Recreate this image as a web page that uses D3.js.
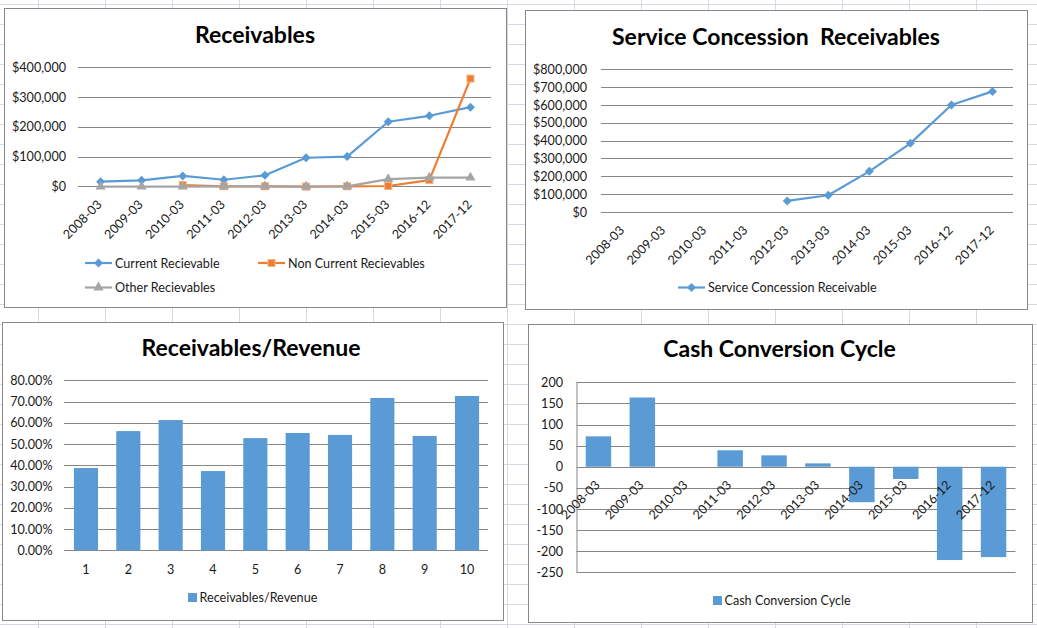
<!DOCTYPE html>
<html>
<head>
<meta charset="utf-8">
<script src="https://cdn.jsdelivr.net/npm/d3@7/dist/d3.min.js"></script>
<style>
  html, body { margin: 0; padding: 0; background: #fff; }
  svg { display: block; font-family: Lato, "Open Sans", sans-serif; }
  .tick-label { font-size: 12.6px; fill: #1a1a1a; }
  .title { font-size: 23px; font-weight: bold; fill: #000; }
</style>
</head>
<body>
<svg id="chart" width="1037" height="628"></svg>
<script>
// ---- data ----
var periods = ["2008-03", "2009-03", "2010-03", "2011-03", "2012-03",
               "2013-03", "2014-03", "2015-03", "2016-12", "2017-12"];
var currentRecv    = [15500, 20000, 35000, 22000, 37000, 96000, 100000, 217000, 237000, 266000];
var nonCurrentRecv = [null, null, 4000, 0, 0, -1000, 0, 1000, 21000, 362000];
var otherRecv      = [-1000, -1000, -1000, 0, 0, -1000, 0, 24000, 29000, 29000];
var serviceRecv    = [null, null, null, null, 62000, 94000, 228000, 385000, 600000, 676000];
var ratioIndex     = [1, 2, 3, 4, 5, 6, 7, 8, 9, 10];
var recvRevenue    = [0.387, 0.561, 0.613, 0.373, 0.528, 0.552, 0.543, 0.717, 0.538, 0.726];
var cashCycle      = [72, 164, 0, 39, 27, 8, -84, -29, -221, -214];

var recvTicks    = [0, 100000, 200000, 300000, 400000];
var serviceTicks = [0, 100000, 200000, 300000, 400000, 500000, 600000, 700000, 800000];
var ratioTicks   = [0, 0.1, 0.2, 0.3, 0.4, 0.5, 0.6, 0.7, 0.8];
var cycleTicks   = [-250, -200, -150, -100, -50, 0, 50, 100, 150, 200];

var BLUE = "#5b9bd5", ORANGE = "#ed7d31", GRAY = "#a5a5a5";
var GRID = "#878787";

var svg = d3.select("#chart");
var money = function(v) { return "$" + d3.format(",")(v); };
var pct = d3.format(".2%");

// ---- spreadsheet background ----
var sheet = svg.append("g").attr("class", "sheet");
sheet.selectAll("line.col").data(d3.range(38, 1037, 67)).enter()
  .append("line").attr("class", "col")
  .attr("x1", function(d){ return d + 0.5; }).attr("x2", function(d){ return d + 0.5; })
  .attr("y1", 0).attr("y2", 628)
  .attr("stroke", "#d4d9e3");
sheet.selectAll("line.row").data(d3.range(4, 628, 20)).enter()
  .append("line").attr("class", "row")
  .attr("y1", function(d){ return d + 0.5; }).attr("y2", function(d){ return d + 0.5; })
  .attr("x1", 0).attr("x2", 1037)
  .attr("stroke", "#d4d9e3");

function panel(box, title, tx, ty) {
  var g = svg.append("g");
  g.append("rect")
    .attr("x", box[0] + 0.5).attr("y", box[1] + 0.5)
    .attr("width", box[2] - box[0]).attr("height", box[3] - box[1])
    .attr("fill", "#fff").attr("stroke", "#888").attr("stroke-width", 1);
  g.append("text").attr("class", "title")
    .attr("x", tx).attr("y", ty).attr("text-anchor", "middle")
    .style("white-space", "pre")
    .text(title);
  return g;
}

function gridAndYAxis(g, y, ticks, x0, x1, labelX, fmt) {
  g.selectAll("line.grid").data(ticks).enter()
    .append("line").attr("class", "grid")
    .attr("x1", x0).attr("x2", x1)
    .attr("y1", function(d){ return Math.round(y(d)) + 0.5; })
    .attr("y2", function(d){ return Math.round(y(d)) + 0.5; })
    .attr("stroke", GRID);
  g.selectAll("text.ylab").data(ticks).enter()
    .append("text").attr("class", "tick-label ylab")
    .attr("x", labelX).attr("y", function(d){ return y(d); })
    .attr("dy", "0.36em").attr("text-anchor", "end")
    .text(fmt);
}

function rotatedXLabels(g, x, cats, y0) {
  g.selectAll("text.xlab").data(cats).enter()
    .append("text").attr("class", "tick-label xlab")
    .attr("text-anchor", "end").attr("dy", "0.35em")
    .attr("transform", function(d){
      return "translate(" + (x(d) + x.bandwidth() / 2 - 1) + "," + (y0 + 16) + ") rotate(-45)";
    })
    .text(function(d){ return d; });
}

function marker(sel, type, color) {
  if (type === "diamond") {
    sel.append("path").attr("d", "M0,-4.5L4.5,0L0,4.5L-4.5,0Z").attr("fill", color);
  } else if (type === "square") {
    sel.append("rect").attr("x", -3.5).attr("y", -3.5).attr("width", 7).attr("height", 7)
      .attr("fill", color).attr("stroke", "#f4b183").attr("stroke-width", 1);
  } else {
    sel.append("path").attr("d", d3.symbol().type(d3.symbolTriangle).size(45)()).attr("fill", color);
  }
}

function drawSeries(g, x, y, cats, values, color, type) {
  var pts = cats.map(function(c, i){ return {c: c, v: values[i]}; })
    .filter(function(p){ return p.v !== null; });
  var line = d3.line()
    .x(function(p){ return x(p.c) + x.bandwidth() / 2; })
    .y(function(p){ return y(p.v); });
  g.append("path").datum(pts).attr("d", line)
    .attr("fill", "none").attr("stroke", color).attr("stroke-width", 2.2)
    .attr("stroke-linejoin", "round");
  g.selectAll(null).data(pts).enter().append("g")
    .attr("transform", function(p){ return "translate(" + (x(p.c) + x.bandwidth() / 2) + "," + y(p.v) + ")"; })
    .each(function(){ marker(d3.select(this), type, color); });
}

function lineLegend(g, lx, ly, label, color, type) {
  var item = g.append("g").attr("transform", "translate(" + lx + "," + ly + ")");
  item.append("line").attr("x1", 0).attr("x2", 27).attr("y1", 0).attr("y2", 0)
    .attr("stroke", color).attr("stroke-width", 2.2);
  marker(item.append("g").attr("transform", "translate(13.5,0)"), type, color);
  item.append("text").attr("class", "tick-label").attr("x", 30).attr("dy", "0.36em").text(label);
}

function boxLegend(g, lx, ly, label, color) {
  var item = g.append("g").attr("transform", "translate(" + lx + "," + ly + ")");
  item.append("rect").attr("x", 0).attr("y", -4.5).attr("width", 9).attr("height", 9).attr("fill", color);
  item.append("text").attr("class", "tick-label").attr("x", 11.5).attr("dy", "0.36em").text(label);
}

// ---- 1. Receivables ----
(function(){
  var g = panel([4, 8, 506, 307], "Receivables", 255, 43);
  var x = d3.scaleBand().domain(periods).range([80, 491]);
  var y = d3.scaleLinear().domain([0, 400000]).range([186.3, 67.3]);
  gridAndYAxis(g, y, recvTicks, 78, 491, 66, money);
  rotatedXLabels(g, x, periods, y(0));
  drawSeries(g, x, y, periods, currentRecv, BLUE, "diamond");
  drawSeries(g, x, y, periods, nonCurrentRecv, ORANGE, "square");
  drawSeries(g, x, y, periods, otherRecv, GRAY, "triangle");
  lineLegend(g, 85, 263, "Current Recievable", BLUE, "diamond");
  lineLegend(g, 258, 263, "Non Current Recievables", ORANGE, "square");
  lineLegend(g, 85, 287.5, "Other Recievables", GRAY, "triangle");
})();

// ---- 2. Service Concession Receivables ----
(function(){
  var g = panel([525, 10, 1027, 309], "Service Concession  Receivables", 776, 45);
  var x = d3.scaleBand().domain(periods).range([602.5, 1013]);
  var y = d3.scaleLinear().domain([0, 800000]).range([212, 69.3]);
  gridAndYAxis(g, y, serviceTicks, 601, 1013, 587, money);
  rotatedXLabels(g, x, periods, y(0));
  drawSeries(g, x, y, periods, serviceRecv, BLUE, "diamond");
  lineLegend(g, 678, 287.5, "Service Concession Receivable", BLUE, "diamond");
})();

// ---- 3. Receivables/Revenue ----
(function(){
  var g = panel([2, 322, 503, 620], "Receivables/Revenue", 251, 356);
  var x = d3.scaleBand().domain(ratioIndex).range([64.8, 488.2]).paddingInner(0.43).paddingOuter(0.215);
  var y = d3.scaleLinear().domain([0, 0.8]).range([550.3, 380.3]);
  gridAndYAxis(g, y, ratioTicks, 64, 488, 52.5, pct);
  g.selectAll("rect.bar").data(ratioIndex).enter().append("rect").attr("class", "bar")
    .attr("x", function(d){ return x(d); })
    .attr("width", x.bandwidth())
    .attr("y", function(d, i){ return y(recvRevenue[i]); })
    .attr("height", function(d, i){ return y(0) - y(recvRevenue[i]); })
    .attr("fill", BLUE);
  g.selectAll("text.xlab").data(ratioIndex).enter().append("text").attr("class", "tick-label xlab")
    .attr("x", function(d){ return x(d) + x.bandwidth() / 2; })
    .attr("y", 569).attr("dy", "0.36em").attr("text-anchor", "middle")
    .text(function(d){ return d; });
  boxLegend(g, 188, 597.5, "Receivables/Revenue", BLUE);
})();

// ---- 4. Cash Conversion Cycle ----
(function(){
  var g = panel([528, 324, 1032, 622], "Cash Conversion Cycle", 779.5, 357);
  var x = d3.scaleBand().domain(periods).range([576.5, 1015.5]).paddingInner(0.42).paddingOuter(0.21);
  var y = d3.scaleLinear().domain([-250, 200]).range([572.3, 382.3]);
  gridAndYAxis(g, y, cycleTicks, 576.5, 1015.5, 563, function(d){ return d; });
  g.append("line")
    .attr("x1", 577).attr("x2", 577).attr("y1", y(200)).attr("y2", y(-250))
    .attr("stroke", GRID);
  g.selectAll("rect.bar").data(periods).enter().append("rect").attr("class", "bar")
    .attr("x", function(d){ return x(d); })
    .attr("width", x.bandwidth())
    .attr("y", function(d, i){ return y(Math.max(0, cashCycle[i])); })
    .attr("height", function(d, i){ return Math.abs(y(cashCycle[i]) - y(0)); })
    .attr("fill", BLUE);
  var xl = d3.scaleBand().domain(periods).range([576.5, 1015.5]);
  rotatedXLabels(g, xl, periods, y(0));
  boxLegend(g, 713, 600.5, "Cash Conversion Cycle", BLUE);
})();
</script>
</body>
</html>
